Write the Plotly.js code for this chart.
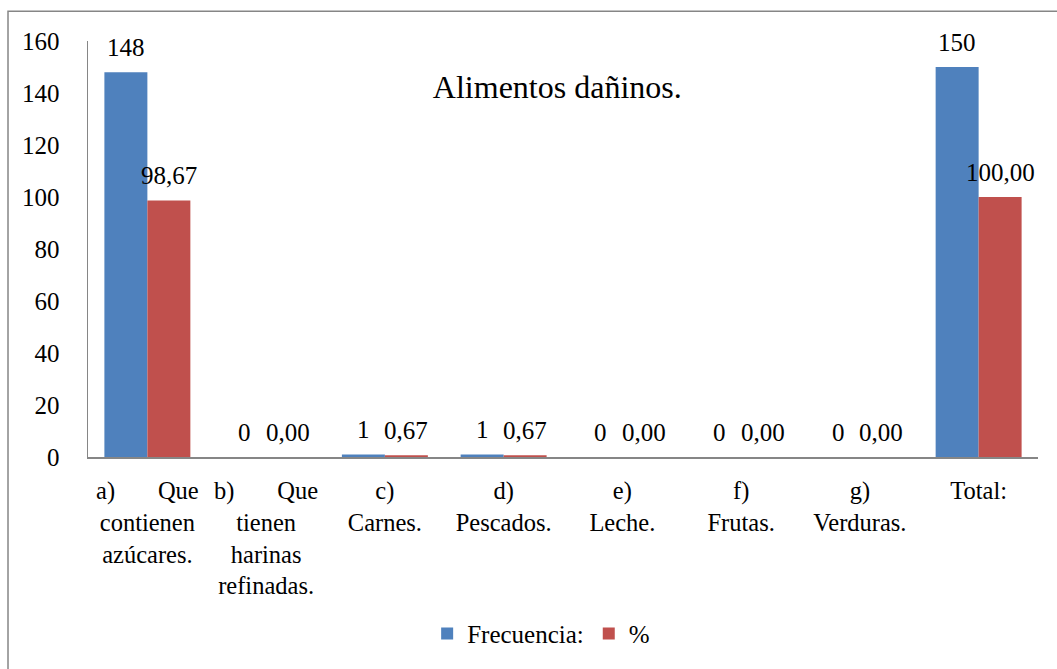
<!DOCTYPE html>
<html>
<head>
<meta charset="utf-8">
<script src="https://cdn.plot.ly/plotly-3.0.1.min.js"></script>
<style>
html,body{margin:0;padding:0;background:#fff;}
#chart{width:1057px;height:669px;}
</style>
</head>
<body>
<div id="chart"></div>
<script>
var categories = ["a", "b", "c", "d", "e", "f", "g", "Total"];
var NB = "\u00a0";
var tickLabels = [
  "a)" + NB.repeat(7) + "Que<br>contienen<br>azúcares.",
  "b)" + NB.repeat(7) + "Que<br>tienen<br>harinas<br>refinadas.",
  "c)<br>Carnes.",
  "d)<br>Pescados.",
  "e)<br>Leche.",
  "f)<br>Frutas.",
  "g)<br>Verduras.",
  "Total:"
];
var frecuencia = [148, 0, 1, 1, 0, 0, 0, 150];
var porcentaje = [98.67, 0, 0.67, 0.67, 0, 0, 0, 100];
var seriesNames = ["Frecuencia:", "%"];
var yTicks = [0, 20, 40, 60, 80, 100, 120, 140, 160];

var FONT = "Liberation Serif";
var BLUE = "#4F81BD", RED = "#C0504D", GRAY = "#868686";

var traces = [
  {type: "bar", name: seriesNames[0], x: categories, y: frecuencia,
   marker: {color: BLUE}, hoverinfo: "none"},
  {type: "bar", name: seriesNames[1], x: categories, y: porcentaje,
   marker: {color: RED}, hoverinfo: "none"}
];

var annotations = [];
var half = 21.6;
categories.forEach(function (c, i) {
  annotations.push({x: c, y: frecuencia[i], xref: "x", yref: "y",
    text: String(frecuencia[i]), showarrow: false, xshift: -half, yshift: 9,
    yanchor: "bottom", xanchor: "center", font: {family: FONT, size: 25, color: "#000"}});
  annotations.push({x: c, y: porcentaje[i], xref: "x", yref: "y",
    text: porcentaje[i].toFixed(2).replace(".", ","), showarrow: false, xshift: half, yshift: 9,
    yanchor: "bottom", xanchor: "center", font: {family: FONT, size: 25, color: "#000"}});
});

var layout = {
  width: 1057, height: 669,
  margin: {l: 88, r: 19, t: 41, b: 207, pad: 0},
  paper_bgcolor: "#fff", plot_bgcolor: "#fff",
  font: {family: FONT, size: 25, color: "#000"},
  barmode: "group", bargap: 0.276, bargroupgap: 0,
  showlegend: true,
  title: {text: "Alimentos dañinos.", font: {family: FONT, size: 32, color: "#000"},
          xref: "paper", x: 0.494, xanchor: "center",
          yref: "container", y: 0.871, yanchor: "middle"},
  xaxis: {type: "category", tickmode: "array", tickvals: categories, ticktext: tickLabels,
          showline: true, linecolor: GRAY, linewidth: 1.5, ticks: "", showgrid: false,
          zeroline: false, tickangle: 0, ticklabelstandoff: 11,
          tickfont: {family: FONT, size: 24.5, color: "#000"}},
  yaxis: {range: [0, 160], tickmode: "array", tickvals: yTicks,
          showline: true, linecolor: GRAY, linewidth: 1.5, ticks: "", showgrid: false,
          zeroline: false, ticklabelstandoff: 22,
          tickfont: {family: FONT, size: 25, color: "#000"}},
  legend: {orientation: "h", x: 0.477, xanchor: "center", y: -0.425, yanchor: "middle",
           font: {family: FONT, size: 25, color: "#000"}, itemwidth: 30,
           bgcolor: "rgba(0,0,0,0)"},
  annotations: annotations,
  shapes: [{type: "rect", xref: "paper", yref: "paper",
            x0: -0.0842, x1: 1.03, y0: -0.55, y1: 1.0713,
            line: {color: GRAY, width: 1.5}, fillcolor: "rgba(0,0,0,0)", layer: "below"}]
};

Plotly.newPlot("chart", traces, layout, {displayModeBar: false, staticPlot: true});
</script>
</body>
</html>
